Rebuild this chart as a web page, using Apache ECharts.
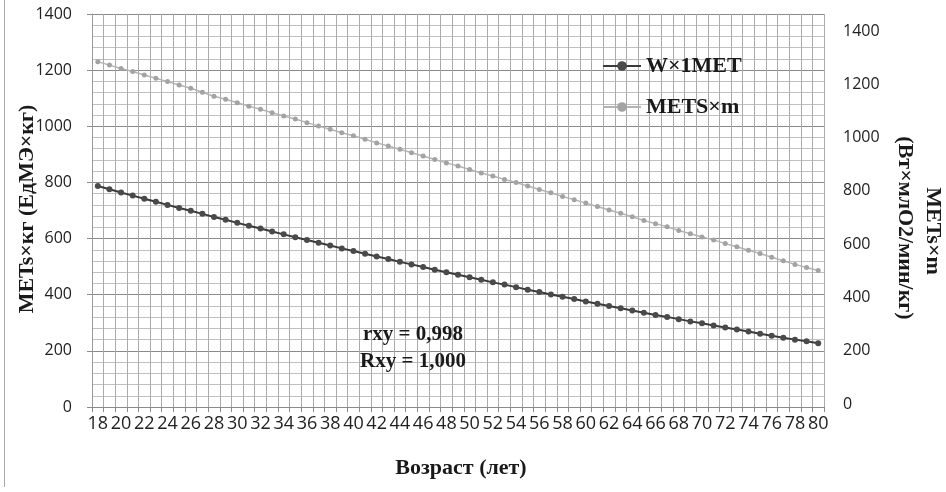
<!DOCTYPE html>
<html>
<head>
<meta charset="utf-8">
<script src="https://cdn.jsdelivr.net/npm/echarts@6/dist/echarts.min.js"></script>
<style>html,body{margin:0;padding:0;background:#fff;}#c{width:946px;height:492px;}</style>
</head>
<body>
<div id="c"></div>
<script>
const ages = ['18','19','20','21','22','23','24','25','26','27','28','29','30','31','32','33','34','35','36','37','38','39','40','41','42','43','44','45','46','47','48','49','50','51','52','53','54','55','56','57','58','59','60','61','62','63','64','65','66','67','68','69','70','71','72','73','74','75','76','77','78','79','80'];
// left axis (METs×кг)
const w1met = [787,776,764,753,742,731,720,709,699,688,677,667,656,646,636,625,615,605,595,585,575,565,556,546,536,527,517,508,499,489,480,471,462,453,444,436,427,418,410,401,393,385,376,368,360,352,344,336,328,321,313,305,298,290,283,276,269,261,254,247,240,234,227];
// right axis (METs×m)
const metsM = [1285,1272,1259,1248,1235,1223,1210,1197,1185,1170,1155,1144,1131,1118,1106,1093,1081,1070,1056,1043,1031,1018,1007,994,980,968,956,943,931,918,905,893,880,867,856,843,831,818,805,793,779,767,754,741,728,716,703,689,677,665,651,639,627,616,602,590,577,565,551,538,524,512,501];
const yTicks = {min: 0, max: 1400, interval: 200};
const seriesNames = ['W×1MET', 'METS×m'];

const chart = echarts.init(document.getElementById('c'), null, {renderer: 'canvas'});
const tickFont = 'Open Sans';
const serif = 'Liberation Serif';
const plain = v => String(v);
chart.setOption({
  backgroundColor: '#ffffff',
  animation: false,
  grid: [
    {left: 92, right: 122, top: 14, bottom: 85},
    {left: 92, right: 122, top: 31, bottom: 88}
  ],
  xAxis: [
    {
      type: 'category', gridIndex: 0, data: ages, boundaryGap: true,
      axisLine: {show: true, lineStyle: {color: '#8a8a8a', width: 1}},
      axisTick: {show: true, interval: 0, length: 5, lineStyle: {color: '#8a8a8a'}},
      axisLabel: {interval: 1, fontSize: 18, fontFamily: tickFont, color: '#222', margin: 8, hideOverlap: false},
      splitLine: {show: true, interval: 0, lineStyle: {color: '#ababab', width: 1}}
    },
    {
      type: 'category', gridIndex: 1, data: ages, boundaryGap: true, show: false
    }
  ],
  yAxis: [
    {
      type: 'value', gridIndex: 0, min: yTicks.min, max: yTicks.max, interval: yTicks.interval,
      axisLine: {show: true, lineStyle: {color: '#9a9a9a'}},
      axisTick: {show: true, length: 5, lineStyle: {color: '#8a8a8a'}},
      axisLabel: {fontSize: 16, fontFamily: tickFont, color: '#222', margin: 20, formatter: plain},
      splitLine: {show: true, lineStyle: {color: '#8a8a8a', width: 1}},
      minorTick: {show: false, splitNumber: 5},
      minorSplitLine: {show: true, lineStyle: {color: '#c0c0c0', width: 1}}
    },
    {
      type: 'value', gridIndex: 1, position: 'right', min: yTicks.min, max: yTicks.max, interval: yTicks.interval,
      axisLine: {show: false}, axisTick: {show: false}, splitLine: {show: false},
      axisLabel: {fontSize: 16, fontFamily: tickFont, color: '#222', margin: 19, formatter: plain}
    }
  ],
  legend: {
    orient: 'vertical', left: 597, top: 50,
    itemWidth: 38, itemHeight: 12, itemGap: 19,
    data: seriesNames,
    textStyle: {fontFamily: serif, fontWeight: 'bold', fontSize: 22, color: '#1a1a1a', lineHeight: 22}
  },
  series: [
    {
      name: seriesNames[0], type: 'line', xAxisIndex: 0, yAxisIndex: 0, data: w1met,
      symbol: 'circle', symbolSize: 6, showSymbol: true,
      lineStyle: {color: '#3a3a3a', width: 2},
      itemStyle: {color: '#4a4a4a'}, z: 3
    },
    {
      name: seriesNames[1], type: 'line', xAxisIndex: 1, yAxisIndex: 1, data: metsM,
      symbol: 'circle', symbolSize: 5, showSymbol: true,
      lineStyle: {color: '#b4b4b4', width: 1.5},
      itemStyle: {color: '#a3a3a3'}, z: 3
    }
  ],
  graphic: [
    {type: 'line', shape: {x1: 4.5, y1: 0, x2: 4.5, y2: 487}, style: {stroke: '#a8a8a8', lineWidth: 1}, silent: true},
    {type: 'text', x: 27, y: 209, rotation: Math.PI / 2,
     style: {text: 'METs×кг (ЕдМЭ×кг)', font: 'bold 22px "Liberation Serif"', fill: '#1a1a1a', textAlign: 'center', textVerticalAlign: 'middle'}},
    {type: 'text', x: 933, y: 231, rotation: -Math.PI / 2,
     style: {text: 'METs×m', font: 'bold 22px "Liberation Serif"', fill: '#1a1a1a', textAlign: 'center', textVerticalAlign: 'middle'}},
    {type: 'text', x: 905, y: 228, rotation: -Math.PI / 2,
     style: {text: '(Вт×млО2/мин/кг)', font: 'bold 22px "Liberation Serif"', fill: '#1a1a1a', textAlign: 'center', textVerticalAlign: 'middle'}},
    {type: 'text', x: 461, y: 468,
     style: {text: 'Возраст (лет)', font: 'bold 22px "Liberation Serif"', fill: '#1a1a1a', textAlign: 'center', textVerticalAlign: 'middle'}},
    {type: 'text', x: 413, y: 335, z: 10,
     style: {text: 'rxy = 0,998', font: 'bold 21px "Liberation Serif"', fill: '#1a1a1a', textAlign: 'center', textVerticalAlign: 'middle'}},
    {type: 'text', x: 413, y: 362, z: 10,
     style: {text: 'Rxy = 1,000', font: 'bold 21px "Liberation Serif"', fill: '#1a1a1a', textAlign: 'center', textVerticalAlign: 'middle'}}
  ]
});
</script>
</body>
</html>
